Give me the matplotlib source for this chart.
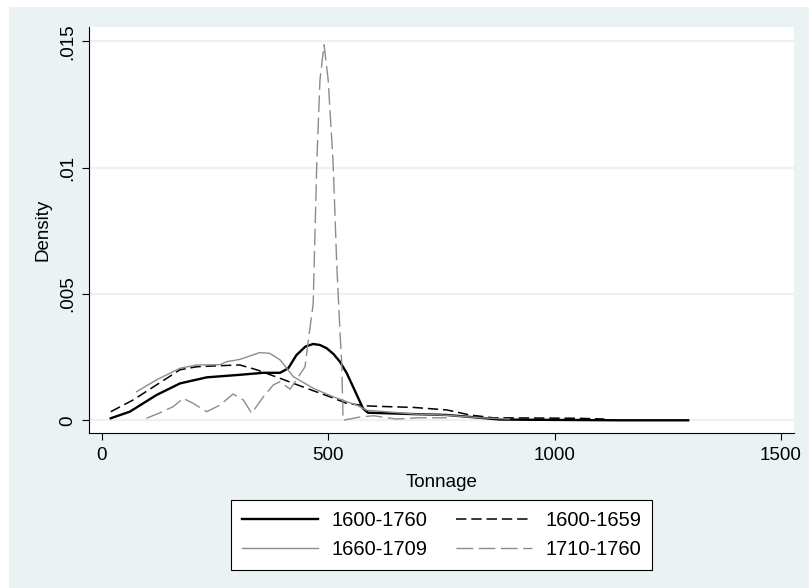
import numpy as np
import matplotlib
matplotlib.use("Agg")
import matplotlib.pyplot as plt
from matplotlib.patches import Rectangle


# Kernel density estimates (tonnage, density)
all_x = [20, 62, 121, 173, 232, 305, 357, 394, 412, 430, 450, 467, 482, 497, 512,
         526, 541, 555, 566, 577, 588, 680, 762, 835, 879, 950, 1050, 1150, 1295]
all_y = [0.00008, 0.00034, 0.0010, 0.00146, 0.0017, 0.0018, 0.00188, 0.00188, 0.00206,
         0.00258, 0.00292, 0.00302, 0.00298, 0.00285, 0.00262, 0.00232, 0.00187, 0.00133,
         0.0009, 0.00047, 0.0003, 0.00025, 0.00021, 0.0001, 0.00003, 0.00002, 0.00001,
         0.0, 0.0]

early_x = [20, 69, 121, 173, 210, 261, 305, 342, 394, 452, 504, 541, 585, 614, 688,
           762, 813, 864, 950, 1050, 1110]
early_y = [0.00034, 0.0008, 0.0014, 0.002, 0.00212, 0.00216, 0.00219, 0.002, 0.00166,
           0.00127, 0.00093, 0.00067, 0.00057, 0.00055, 0.00051, 0.00041, 0.00021,
           0.0001, 0.00009, 0.00008, 0.00005]

mid_x = [77, 121, 173, 210, 261, 276, 305, 349, 371, 394, 423, 445, 467, 511, 563,
         585, 688, 762, 835, 900]
mid_y = [0.00113, 0.0016, 0.00206, 0.00219, 0.0022, 0.00232, 0.00241, 0.00268, 0.00265,
         0.00239, 0.00173, 0.0015, 0.00127, 0.00093, 0.0006, 0.0004, 0.00025, 0.0002,
         0.0001, 0.00005]

late_x = [99, 129, 158, 180, 202, 232, 261, 290, 313, 331, 357, 379, 394, 416, 430,
          449, 458, 467, 475, 482, 491, 500, 511, 519, 526, 530, 533, 570, 600, 650,
          700, 762]
late_y = [0.00008, 0.0003, 0.00054, 0.00087, 0.00067, 0.00034, 0.0006, 0.00104, 0.0008,
          0.00028, 0.00093, 0.0014, 0.00153, 0.00123, 0.0016, 0.00212, 0.0034, 0.0046,
          0.0102, 0.01347, 0.01486, 0.0135, 0.0102, 0.0062, 0.00357, 0.00226, 0.0,
          0.00013, 0.00018, 0.00005, 0.0001, 0.0001]

labels = ["1600-1760", "1600-1659", "1660-1709", "1710-1760"]
x_ticks = [0, 500, 1000, 1500]
y_ticks = [0, 0.005, 0.01, 0.015]
y_tick_labels = ["0", ".005", ".01", ".015"]

BG = "#EAF2F3"
GREY = "#8c8c8c"


def main():
    plt.rcParams["font.family"] = ["Liberation Sans", "DejaVu Sans"]
    plt.rcParams["lines.scale_dashes"] = False

    fig = plt.figure(figsize=(8.09, 5.88), dpi=100)
    fig.patch.set_facecolor("white")
    # Stata-like outer region (the page edge shows as a white strip)
    fig.patches.append(Rectangle((9 / 809, 0), 800 / 809, 581 / 588,
                                 transform=fig.transFigure, facecolor=BG,
                                 edgecolor="none", zorder=-5))

    ax = fig.add_axes([89 / 809, 1 - 433 / 588, 705 / 809, 406 / 588])
    ax.set_zorder(1)
    ax.set_facecolor("white")

    for y in y_ticks:
        ax.axhline(y, color=BG, lw=1.6, zorder=1)

    h1, = ax.plot(all_x, all_y, color="black", lw=1.7, zorder=3)
    h2, = ax.plot(early_x, early_y, color="black", lw=1.1, dashes=(7.5, 3.5),
                  zorder=3)
    h3, = ax.plot(mid_x, mid_y, color=GREY, lw=1.0, zorder=3)
    h4, = ax.plot(late_x, late_y, color=GREY, lw=1.0, dashes=(12, 4), zorder=3)

    ax.set_xlim(-28, 1528.7)
    ax.set_ylim(-0.000503, 0.015566)

    ax.set_xticks(x_ticks)
    ax.set_xticklabels([str(t) for t in x_ticks])
    ax.set_yticks(y_ticks)
    ax.set_yticklabels(y_tick_labels, rotation=90, va="center")
    ax.tick_params(direction="out", length=5, width=0.8, labelsize=13.5,
                   colors="black")
    ax.tick_params(axis="y", pad=4)
    ax.tick_params(axis="x", pad=5)

    for side in ("top", "right"):
        ax.spines[side].set_visible(False)
    for side in ("left", "bottom"):
        ax.spines[side].set_linewidth(0.8)

    ax.set_xlabel("Tonnage", fontsize=13.5)
    ax.xaxis.set_label_coords(0.5, -0.1)
    ax.set_ylabel("Density", fontsize=13.5, va="center")
    ax.yaxis.set_label_coords(-0.065, 0.5)

    # matplotlib fills legend columns first, Stata fills rows
    leg = fig.legend([h1, h3, h2, h4], [labels[0], labels[2], labels[1], labels[3]],
                     loc="upper center", ncol=2,
                     bbox_to_anchor=(441.5 / 809, 1 - 500 / 588),
                     borderaxespad=0, fontsize=14.5, frameon=True, fancybox=False,
                     handlelength=3.8, handletextpad=0.65, columnspacing=1.4,
                     labelspacing=0.5, borderpad=0.55)
    leg.get_frame().set_edgecolor("black")
    leg.get_frame().set_facecolor("white")
    leg.get_frame().set_alpha(1)
    leg.get_frame().set_linewidth(0.8)

    fig.savefig("out.png", dpi=100, facecolor=fig.get_facecolor())


if __name__ == "__main__":
    main()
